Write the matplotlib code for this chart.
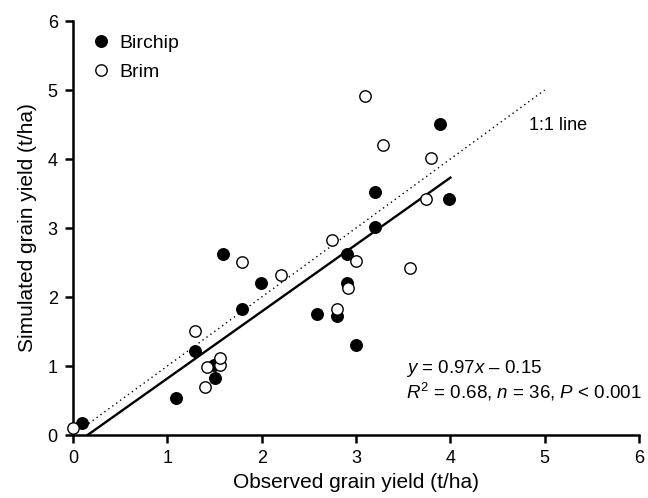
import matplotlib
matplotlib.use('Agg')
import matplotlib.pyplot as plt

plt.rcParams['font.family'] = 'Liberation Sans'
plt.rcParams['mathtext.fontset'] = 'custom'
plt.rcParams['mathtext.rm'] = 'Liberation Sans'
plt.rcParams['mathtext.it'] = 'Liberation Sans:italic'

# observed vs simulated yield (t/ha)
birchip_obs = [0.09, 1.09, 1.29, 1.49, 1.50, 1.59, 1.79, 1.99, 2.59, 2.80, 2.90, 2.90, 3.00, 3.20, 3.20, 3.89, 3.99]
birchip_sim = [0.17, 0.53, 1.22, 1.02, 0.82, 2.62, 1.82, 2.21, 1.76, 1.72, 2.62, 2.21, 1.31, 3.52, 3.01, 4.51, 3.42]
brim_obs = [0.00, 1.29, 1.40, 1.42, 1.56, 1.56, 1.79, 2.20, 2.75, 2.80, 2.91, 3.00, 3.09, 3.29, 3.57, 3.74, 3.79]
brim_sim = [0.10, 1.51, 0.69, 0.99, 1.01, 1.11, 2.51, 2.32, 2.82, 1.83, 2.13, 2.52, 4.91, 4.21, 2.42, 3.42, 4.02]

one_to_one = [0, 5]
fit_x = [0.155, 4.0]
slope, intercept = 0.97, -0.15

fig = plt.figure(figsize=(6.48, 4.98), dpi=100)
ax = fig.add_axes([0.1127, 0.1265, 0.8735, 0.8313])

ax.plot(one_to_one, one_to_one, color='black', ls=(0, (1, 2.5)), lw=1.0)
ax.plot(fit_x, [slope * v + intercept for v in fit_x], color='black', lw=1.7)

ax.plot(birchip_obs, birchip_sim, 'o', ms=8.5, mfc='black', mec='black', mew=0.8,
        ls='none', label='Birchip', clip_on=False, zorder=3)
ax.plot(brim_obs, brim_sim, 'o', ms=8.2, mfc='white', mec='black', mew=1.0,
        ls='none', label='Brim', clip_on=False, zorder=3)

ax.set_xlim(0, 6)
ax.set_ylim(0, 6)
ax.set_xticks(range(7))
ax.set_yticks(range(7))
for s in ['top', 'right']:
    ax.spines[s].set_visible(False)
for s in ['left', 'bottom']:
    ax.spines[s].set_linewidth(1.8)
ax.tick_params(direction='out', length=6, width=1.8, labelsize=13, pad=5)

ax.set_xlabel('Observed grain yield (t/ha)', fontsize=15, labelpad=4)
ax.set_ylabel('Simulated grain yield (t/ha)', fontsize=15, labelpad=8)

ax.text(4.83, 4.49, '1:1 line', fontsize=13, va='center', ha='left')
ax.text(3.53, 0.97, r'$y$ = 0.97$x$ – 0.15', fontsize=13.5, va='center', ha='left')
ax.text(3.53, 0.63, r'$R^2$ = 0.68, $n$ = 36, $P$ < 0.001', fontsize=13.5, va='center', ha='left')

ax.legend(loc='upper left', frameon=False, fontsize=14, handlelength=1.0,
          handletextpad=0.4, borderaxespad=0.3, labelspacing=0.55,
          bbox_to_anchor=(0.009, 1.0))

fig.savefig('out.png', dpi=100)
